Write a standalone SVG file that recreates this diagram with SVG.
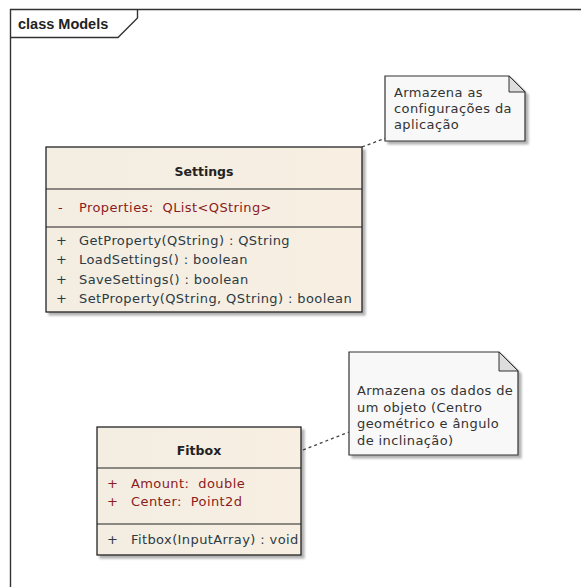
<svg xmlns="http://www.w3.org/2000/svg" width="581" height="587" viewBox="0 0 581 587">
<defs>
<linearGradient id="cls" x1="0" y1="0" x2="1" y2="0">
<stop offset="0" stop-color="#f3ede2"/>
<stop offset="1" stop-color="#f8efe2"/>
</linearGradient>
<filter id="sh" x="-5%" y="-5%" width="115%" height="115%">
<feDropShadow dx="3" dy="3" stdDeviation="1" flood-color="#000" flood-opacity="0.3"/>
</filter>
</defs>
<style>
.frame{fill:none;stroke:#333;stroke-width:1.4}
.box{fill:url(#cls);stroke:#222;stroke-width:1.3;filter:url(#sh)}
.div{stroke:#222;stroke-width:1.2}
.note{fill:#f8f8f8;stroke:#333;stroke-width:1.2;filter:url(#sh)}
.ear{fill:#ddd;stroke:#333;stroke-width:1}
.t{font-family:"DejaVu Sans",Verdana,sans-serif;font-size:13px;letter-spacing:0.4px;white-space:pre}
.title{font-weight:bold;text-anchor:middle;fill:#222;font-size:12.5px;letter-spacing:0}
.attr{fill:#8b1c1c}
.meth{fill:#2c3a44}
.nt{fill:#333}
.conn{fill:none;stroke:#444;stroke-width:1.3;stroke-dasharray:3,3}
</style>
<rect width="581" height="587" fill="#fff"/>
<g id="frame">
<path class="frame" d="M10.5,587 V9.5 H581"/>
<path class="frame" d="M10.5,37.5 H118 L137.5,18 V9.5"/>
<text x="18" y="29" style="font-family:'Liberation Sans',Arial,sans-serif;font-size:14.5px;font-weight:bold;fill:#222">class Models</text>
</g>
<g id="connectors">
<path class="conn" d="M362,147 L386,138"/>
<path class="conn" d="M303,450 L349,432"/>
</g>
<g id="settings">
<rect class="box" x="46" y="147" width="316" height="165"/>
<line class="div" x1="46" y1="189" x2="362" y2="189"/>
<line class="div" x1="46" y1="227" x2="362" y2="227"/>
<text class="t title" x="204" y="176">Settings</text>
<text class="t attr" x="58" y="212">-</text>
<text class="t attr" x="79" y="212">Properties:  QList&lt;QString&gt;</text>
<text class="t meth" x="56" y="245">+</text>
<text class="t meth" x="79" y="245">GetProperty(QString) : QString</text>
<text class="t meth" x="56" y="264">+</text>
<text class="t meth" x="79" y="264">LoadSettings() : boolean</text>
<text class="t meth" x="56" y="284">+</text>
<text class="t meth" x="79" y="284">SaveSettings() : boolean</text>
<text class="t meth" x="56" y="303">+</text>
<text class="t meth" x="79" y="303">SetProperty(QString, QString) : boolean</text>
</g>
<g id="fitbox">
<rect class="box" x="97" y="427" width="204" height="128"/>
<line class="div" x1="97" y1="468" x2="301" y2="468"/>
<line class="div" x1="97" y1="524" x2="301" y2="524"/>
<text class="t title" x="199" y="455">Fitbox</text>
<text class="t attr" x="107" y="488">+</text>
<text class="t attr" x="131" y="488">Amount:  double</text>
<text class="t attr" x="107" y="506">+</text>
<text class="t attr" x="131" y="506">Center:  Point2d</text>
<text class="t meth" x="107" y="544">+</text>
<text class="t meth" x="131" y="544">Fitbox(InputArray) : void</text>
</g>
<g id="note1">
<path class="note" d="M385,76 H509 L525,92 V141 H385 Z"/>
<path class="ear" d="M509,76 V92 H525 Z"/>
<text class="t nt" x="394" y="97">Armazena as</text>
<text class="t nt" x="394" y="113">configurações da</text>
<text class="t nt" x="394" y="129">aplicação</text>
</g>
<g id="note2">
<path class="note" d="M349,352 H499 L518,371 V455 H349 Z"/>
<path class="ear" d="M499,352 V371 H518 Z"/>
<text class="t nt" x="357" y="395">Armazena os dados de</text>
<text class="t nt" x="357" y="412">um objeto (Centro</text>
<text class="t nt" x="357" y="428">geométrico e ângulo</text>
<text class="t nt" x="357" y="445">de inclinação)</text>
</g>
</svg>
